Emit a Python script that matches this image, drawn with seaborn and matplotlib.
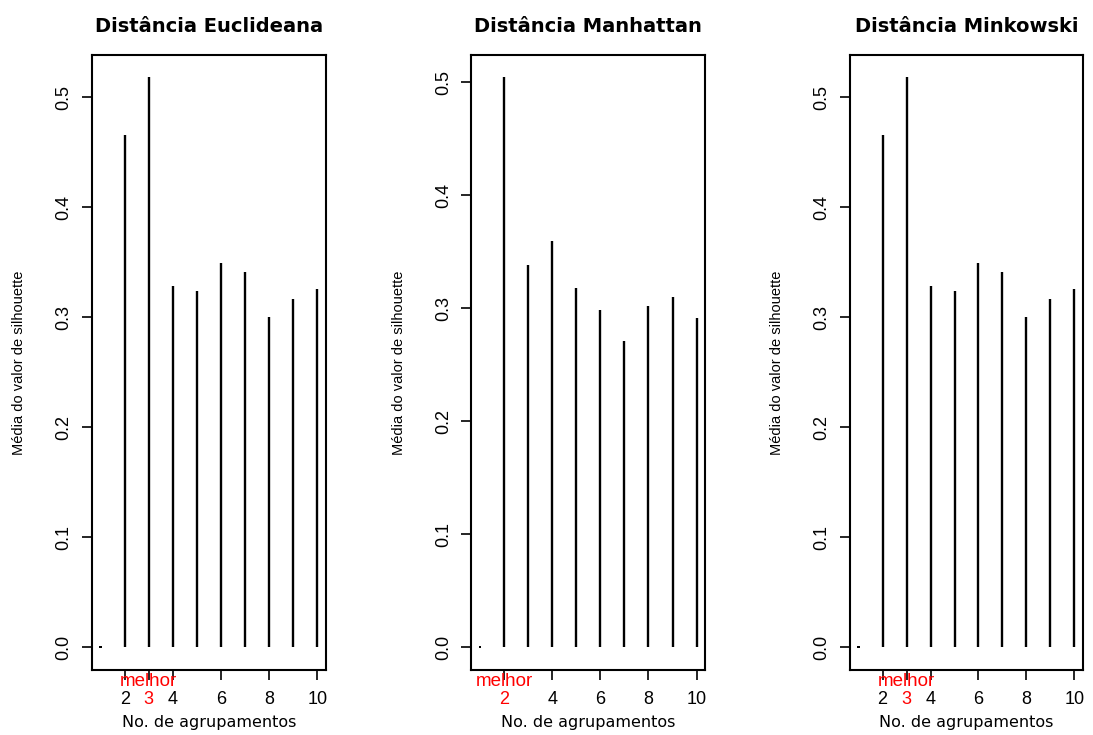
import numpy as np
import pandas as pd
import matplotlib
matplotlib.use("Agg")
import matplotlib.pyplot as plt
import seaborn as sns

# ---- data ----
k = [1, 2, 3, 4, 5, 6, 7, 8, 9, 10]
euclidean = [0.0, 0.466, 0.518, 0.328, 0.324, 0.349, 0.341, 0.300, 0.317, 0.326]
manhattan = [0.0, 0.504, 0.338, 0.359, 0.318, 0.298, 0.271, 0.302, 0.310, 0.291]
minkowski = [0.0, 0.466, 0.518, 0.328, 0.324, 0.349, 0.341, 0.300, 0.317, 0.326]
titles = ["Distância Euclideana", "Distância Manhattan", "Distância Minkowski"]
best_k = [3, 2, 3]
x_ticks = [2, 4, 6, 8, 10]
y_ticks = [0.0, 0.1, 0.2, 0.3, 0.4, 0.5]
y_tick_labels = ["0.0", "0.1", "0.2", "0.3", "0.4", "0.5"]
xlabel = "No. de agrupamentos"
ylabel = "Média do valor de silhouette"
best_label = "melhor"

sns.set_theme(style="ticks")
plt.rcParams['font.family'] = ['Liberation Sans', 'DejaVu Sans']
plt.rcParams['text.color'] = 'black'
plt.rcParams['axes.labelcolor'] = 'black'
plt.rcParams['xtick.color'] = 'black'
plt.rcParams['ytick.color'] = 'black'

W, H = 1093, 735
fig = plt.figure(figsize=(W / 100, H / 100), dpi=100)

lefts = [92, 471.3, 850]
widths = [234, 234, 233]
top_px, bottom_px = 54.7, 670

series = [euclidean, manhattan, minkowski]
for i, (vals, title, best) in enumerate(zip(series, titles, best_k)):
    ax = fig.add_axes([lefts[i] / W, (H - bottom_px) / H, widths[i] / W, (bottom_px - top_px) / H])
    df = pd.DataFrame({"k": k, "s": vals})
    ax.vlines(df["k"], 0, df["s"], color="black", linewidth=1.7)
    zero = df[df["s"] == 0]
    sns.scatterplot(data=zero, x="k", y="s", ax=ax, color="black", s=3, marker="s",
                    edgecolor="none", legend=False)
    ymax = max(vals)
    pad = 0.04 * ymax
    ax.set_xlim(1 - 0.04 * 9, 10 + 0.04 * 9)
    ax.set_ylim(0 - pad, ymax + pad)

    for sp in ax.spines.values():
        sp.set_visible(True)
        sp.set_linewidth(1.5)
        sp.set_color("black")

    ticks = sorted(set(x_ticks + [best]))
    ax.set_xticks(ticks)
    ax.set_xticklabels([str(t) for t in ticks])
    ax.set_yticks(y_ticks)
    ax.set_yticklabels(y_tick_labels, rotation=90, va="center")
    ax.tick_params(axis="both", direction="out", length=7, width=1.2, color="black",
                   labelsize=13, labelcolor="black")
    ax.tick_params(axis="x", pad=8)
    ax.tick_params(axis="y", pad=7)
    for t, lab, tl in zip(ticks, ax.get_xticklabels(), ax.xaxis.get_ticklines()[::2]):
        if t == best:
            lab.set_color("red")
            tl.set_color("red")

    ax.text(best, -0.019, best_label, transform=ax.get_xaxis_transform(), color="red",
            ha="center", va="center", fontsize=13.5)

    ax.set_xlabel(xlabel, fontsize=11.5, labelpad=5, family=["DejaVu Sans"])
    ax.set_ylabel(ylabel, fontsize=10.5, labelpad=21)
    ax.set_title(title, fontsize=14, fontweight="bold", pad=16, family=["DejaVu Sans"])

fig.savefig("out.png", dpi=100, facecolor="white")
